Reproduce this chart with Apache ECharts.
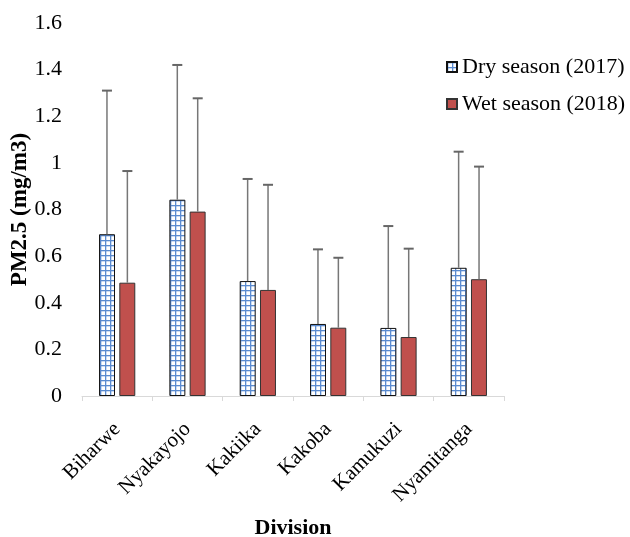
<!DOCTYPE html>
<html><head><meta charset="utf-8">
<script src="https://cdn.jsdelivr.net/npm/echarts@6/dist/echarts.min.js"></script>
<style>html,body{margin:0;padding:0;background:#fff}#c{width:630px;height:537px}</style>
</head><body><div id="c"></div>
<script>
const categories = ['Biharwe','Nyakayojo','Kakiika','Kakoba','Kamukuzi','Nyamitanga'];
const dryValues = [0.694, 0.842, 0.493, 0.309, 0.292, 0.550];
const wetValues = [0.486, 0.791, 0.455, 0.293, 0.253, 0.501];
const dryErrTop = [1.310, 1.420, 0.931, 0.629, 0.729, 1.048];
const wetErrTop = [0.965, 1.277, 0.906, 0.593, 0.632, 0.984];
const yTicks = ['0','0.2','0.4','0.6','0.8','1','1.2','1.4','1.6'];

const pc = document.createElement('canvas');
pc.width = 5; pc.height = 5;
const g = pc.getContext('2d');
g.fillStyle = '#ffffff'; g.fillRect(0,0,5,5);
g.fillStyle = '#5b8bd0';
g.fillRect(0,0,5,1.3);
g.fillRect(0,0,1.3,5);

const font = '"Liberation Serif","Times New Roman",serif';
const chart = echarts.init(document.getElementById('c'));

function errSeries(name, top, vals, offsetFrac) {
  return {
    type: 'custom', name: name + ' err', silent: true, z: 5,
    data: categories.map((c, i) => [i, vals[i], top[i]]),
    renderItem: function (params, api) {
      const band = api.size([1, 0])[0];
      const p0 = api.coord([api.value(0), api.value(1)]);
      const p1 = api.coord([api.value(0), api.value(2)]);
      const x = p0[0] + band * offsetFrac;
      const style = { stroke: '#777777', lineWidth: 1.5 };
      return { type: 'group', children: [
        { type: 'line', shape: { x1: x, y1: p0[1], x2: x, y2: p1[1] }, style: style },
        { type: 'line', shape: { x1: x - 5, y1: p1[1], x2: x + 5, y2: p1[1] }, style: { stroke: '#666666', lineWidth: 2 } }
      ]};
    }
  };
}

chart.setOption({
  animation: false,
  backgroundColor: '#ffffff',
  grid: { left: 82, right: 126, top: 23, bottom: 141, containLabel: false, outerBoundsMode: 'none' },
  legend: {
    orient: 'vertical', left: 441, top: 51, itemWidth: 10, itemHeight: 10, itemGap: 15, icon: 'rect',
    data: ['Dry season (2017)', 'Wet season (2018)'],
    textStyle: { fontFamily: font, fontSize: 22, color: '#000' }
  },
  xAxis: {
    type: 'category', data: categories,
    name: 'Division', nameLocation: 'middle', nameGap: 121,
    nameTextStyle: { fontFamily: font, fontSize: 22, fontWeight: 'bold', color: '#000' },
    axisLine: { lineStyle: { color: '#d9d9d9', width: 1 } },
    axisTick: { show: true, alignWithLabel: false, length: 5, lineStyle: { color: '#d9d9d9' } },
    axisLabel: { rotate: 45, margin: 30, fontFamily: font, fontSize: 21, color: '#000' }
  },
  yAxis: {
    type: 'value', min: 0, max: 1.6, interval: 0.2,
    name: 'PM2.5 (mg/m3)', nameLocation: 'middle', nameGap: 50, nameMoveOverlap: false,
    nameTextStyle: { fontFamily: font, fontSize: 23, fontWeight: 'bold', color: '#000' },
    axisLine: { show: false }, axisTick: { show: false }, splitLine: { show: false },
    axisLabel: { margin: 20, fontFamily: font, fontSize: 22, color: '#000',
      formatter: function (v) { return yTicks[Math.round(v / 0.2)]; } }
  },
  series: [
    { type: 'bar', name: 'Dry season (2017)', data: dryValues, barWidth: '22.7%', barGap: '27%',
      itemStyle: { color: { image: pc, repeat: 'repeat' }, borderColor: '#111', borderWidth: 1 } },
    { type: 'bar', name: 'Wet season (2018)', data: wetValues, barWidth: '22.7%', barGap: '27%',
      itemStyle: { color: '#c0504d', borderColor: '#333', borderWidth: 1 } },
    errSeries('Dry season (2017)', dryErrTop, dryValues, -0.145),
    errSeries('Wet season (2018)', wetErrTop, wetValues, 0.145)
  ]
});
</script></body></html>
